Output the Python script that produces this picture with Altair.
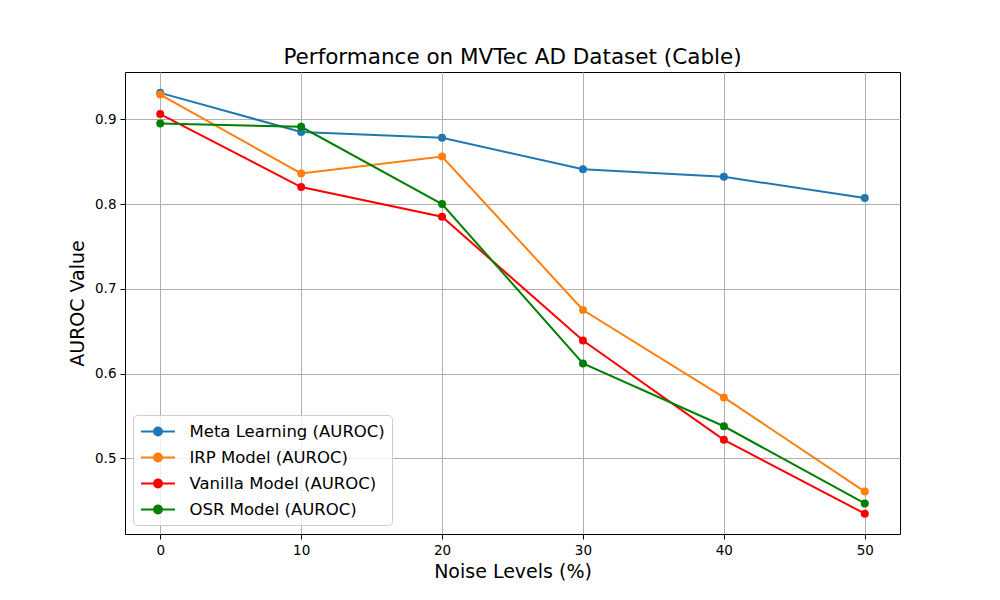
import altair as alt
import pandas as pd

noise = [0, 10, 20, 30, 40, 50]
meta = [0.931, 0.885, 0.878, 0.841, 0.832, 0.807]
irp = [0.929, 0.836, 0.856, 0.675, 0.572, 0.461]
vanilla = [0.906, 0.820, 0.785, 0.639, 0.522, 0.435]
osr = [0.895, 0.891, 0.800, 0.612, 0.538, 0.447]
series = ["Meta Learning (AUROC)", "IRP Model (AUROC)", "Vanilla Model (AUROC)", "OSR Model (AUROC)"]
colors = ["#1f77b4", "#ff7f0e", "#ff0000", "#008000"]
x_ticks = [0, 10, 20, 30, 40, 50]
y_ticks = [0.5, 0.6, 0.7, 0.8, 0.9]

rows = []
for name, vals in zip(series, [meta, irp, vanilla, osr]):
    for n, v in zip(noise, vals):
        rows.append({"noise": n, "auroc": v, "model": name})
df = pd.DataFrame(rows)

FONT = "DejaVu Sans"
# legend handle: line with a dot
sym = ("M-2,0L2,0M-0.47,0A0.47,0.47,0,1,1,0.47,0A0.47,0.47,0,1,1,-0.47,0Z")

x = alt.X("noise:Q", title="Noise Levels (%)",
          scale=alt.Scale(domain=[-2.5, 52.5], nice=False, zero=False),
          axis=alt.Axis(values=x_ticks, format="d", grid=True))
y = alt.Y("auroc:Q", title="AUROC Value",
          scale=alt.Scale(domain=[0.411, 0.9556], nice=False, zero=False),
          axis=alt.Axis(values=y_ticks, format=".1f", grid=True))
color = alt.Color("model:N", sort=series,
                  scale=alt.Scale(domain=series, range=colors),
                  legend=alt.Legend(
                      title=None, orient="none", legendX=8, legendY=343,
                      symbolType=sym, symbolSize=289, symbolStrokeWidth=2,
                      symbolOffset=8.5, labelOffset=22, symbolOpacity=1,
                      labelFont=FONT, labelFontSize=16.5, labelColor="#000",
                      labelLimit=400,
                      rowPadding=8, padding=7,
                      fillColor="rgba(255,255,255,0.8)", strokeColor="#cccccc",
                      cornerRadius=4))

base = alt.Chart(df).encode(x=x, y=y, color=color, detail="model:N", order="noise:Q")
lines = base.mark_line(strokeWidth=2, opacity=1)
points = base.mark_point(filled=True, size=64, opacity=1)

chart = alt.layer(lines, points).properties(
    width=775, height=462,
    title=alt.TitleParams("Performance on MVTec AD Dataset (Cable)", font=FONT,
                          fontSize=21.5, fontWeight="normal", color="#000",
                          anchor="middle", offset=4),
    autosize=alt.AutoSizeParams(type="none"),
    padding={"left": 117, "top": 64, "right": 92, "bottom": 58},
).configure_view(stroke="#000", strokeWidth=1).configure_axis(
    domain=False, tickColor="#000", tickSize=5, tickWidth=1,
    labelFont=FONT, labelFontSize=13.5, labelColor="#000", labelPadding=4,
    titleFont=FONT, titleFontSize=19, titleFontWeight="normal", titleColor="#000",
    gridColor="#b0b0b0", gridWidth=1, gridOpacity=1,
).configure_axisX(titlePadding=6).configure_axisY(titlePadding=7)

chart.save("out.html", embed_options={"renderer": "svg", "actions": False})
